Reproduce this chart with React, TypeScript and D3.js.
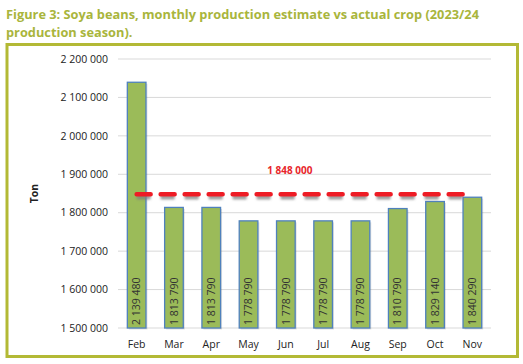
import * as React from 'react';
import * as d3 from 'd3';

const months = ['Feb', 'Mar', 'Apr', 'May', 'Jun', 'Jul', 'Aug', 'Sep', 'Oct', 'Nov'];
const actualCrop = [2139480, 1813790, 1813790, 1778790, 1778790, 1778790, 1778790, 1810790, 1829140, 1840290];
const finalEstimate = 1848000;
const yTicks = [1500000, 1600000, 1700000, 1800000, 1900000, 2000000, 2100000, 2200000];

const fmt = (v: number) => d3.format(',')(v).replace(/,/g, ' ');

const App: React.FC = () => {
  const width = 523;
  const height = 364;
  const margin = { top: 59, right: 32, bottom: 36, left: 118 };
  const innerW = width - margin.left - margin.right;
  const innerH = height - margin.top - margin.bottom;

  const x = d3.scaleBand().domain(months).range([0, innerW]).paddingInner(0.5).paddingOuter(0.25);
  const y = d3.scaleLinear().domain([1500000, 2200000]).range([innerH, 0]);

  const first = x(months[0])! + x.bandwidth() / 2;
  const last = x(months[months.length - 1])! + x.bandwidth() / 2;
  const lineY = y(finalEstimate);

  const font = 'Open Sans, Noto Sans, sans-serif';

  return (
    <svg width={width} height={height} style={{ position: 'absolute', left: 0, top: 0, background: '#fff' }}>
      <text x={6} y={19} fontFamily={font} fontSize={12.8} fontWeight={700} fill="#a9b53c">
        Figure 3: Soya beans, monthly production estimate vs actual crop (2023/24
      </text>
      <text x={6} y={37} fontFamily={font} fontSize={12.8} fontWeight={700} fill="#a9b53c">
        production season).
      </text>
      <rect x={7} y={44.5} width={510.5} height={312} fill="none" stroke="#b3b935" strokeWidth={3} />

      <g transform={`translate(${margin.left},${margin.top})`}>
        {yTicks.map(t => (
          <g key={t}>
            <line x1={0} x2={innerW} y1={y(t)} y2={y(t)} stroke="#d9d9d9" strokeWidth={1} />
            <text x={-10} y={y(t)} dy="0.35em" textAnchor="end" fontFamily={font} fontSize={10.5} fill="#222">
              {fmt(t)}
            </text>
          </g>
        ))}

        {months.map((m, i) => {
          const bx = x(m)!;
          const v = actualCrop[i];
          return (
            <g key={m}>
              <rect x={bx + 1.5} y={y(v) + 1.5} width={x.bandwidth()} height={innerH - y(v)} fill="#000" opacity={0.12} />
              <rect x={bx} y={y(v)} width={x.bandwidth()} height={innerH - y(v)} fill="#9bbb59" stroke="#4f81bd" strokeWidth={1.3} />
              <text
                transform={`translate(${bx + x.bandwidth() / 2},${innerH - 3}) rotate(-90)`}
                dy="0.35em"
                fontFamily={font}
                fontSize={10.5}
                fill="#333"
              >
                {fmt(v)}
              </text>
              <text x={bx + x.bandwidth() / 2} y={innerH + 20} textAnchor="middle" fontFamily={font} fontSize={10.5} fill="#222">
                {m}
              </text>
            </g>
          );
        })}

        <line x1={first} x2={last} y1={lineY + 3} y2={lineY + 3} stroke="#7f7f7f" strokeWidth={4.5} strokeDasharray="14 10" opacity={0.75} style={{ filter: 'blur(1px)' }} />
        <line x1={first} x2={last} y1={lineY} y2={lineY} stroke="#ee1c25" strokeWidth={4.5} strokeDasharray="14 10" strokeLinecap="round" />
        <text x={x('Jun')! + x.bandwidth() / 2 + 4} y={y(1910000)} dy="0.35em" textAnchor="middle" fontFamily={font} fontSize={10} fontWeight={700} fill="#e8262b">
          {fmt(finalEstimate)}
        </text>
      </g>

      <text transform={`translate(38,${margin.top + innerH / 2}) rotate(-90)`} textAnchor="middle" fontFamily={font} fontSize={10.5} fontWeight={700} fill="#222">
        Ton
      </text>
    </svg>
  );
};

export default App;
